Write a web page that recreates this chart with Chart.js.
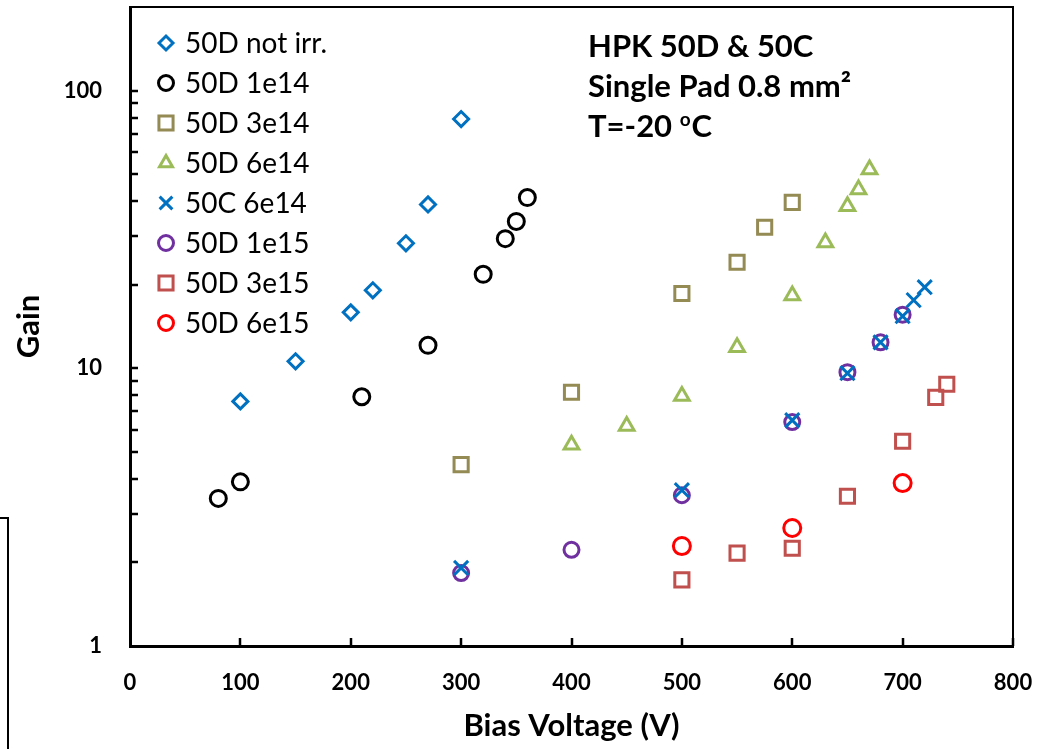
<!DOCTYPE html>
<html><head><meta charset="utf-8">
<script src="https://cdn.jsdelivr.net/npm/chart.js@4.4.1/dist/chart.umd.min.js"></script>
<style>html,body{margin:0;padding:0;background:#fff;overflow:hidden}#wrap{width:1057px;height:749px;position:relative}</style>
</head><body><div id="wrap"><canvas id="c" width="1057" height="749"></canvas></div>
<script>
// ---- data ----
const seriesNames = ['50D not irr.', '50D 1e14', '50D 3e14', '50D 6e14', '50C 6e14', '50D 1e15', '50D 3e15', '50D 6e15'];
const v50DnotIrr = [100, 150, 200, 220, 250, 270, 300];
const g50DnotIrr = [7.6, 10.6, 15.9, 19.1, 28.2, 38.9, 79];
const v50D1e14 = [80, 100, 210, 270, 320, 340, 350, 360];
const g50D1e14 = [3.4, 3.9, 7.9, 12.1, 21.8, 29.3, 33.8, 41.2];
const v50D3e14 = [300, 400, 500, 550, 575, 600];
const g50D3e14 = [4.5, 8.2, 18.6, 24.1, 32.2, 39.6];
const v50D6e14 = [400, 450, 500, 550, 600, 630, 650, 660, 670];
const g50D6e14 = [5.3, 6.2, 7.95, 11.9, 18.3, 28.4, 38.3, 44.0, 52.0];
const v50C6e14 = [300, 500, 600, 650, 680, 700, 710, 720];
const g50C6e14 = [1.91, 3.64, 6.5, 9.6, 12.4, 15.4, 17.6, 19.6];
const v50D1e15 = [300, 400, 500, 600, 650, 680, 700];
const g50D1e15 = [1.83, 2.22, 3.49, 6.4, 9.68, 12.4, 15.6];
const v50D3e15 = [500, 550, 600, 650, 700, 730, 740];
const g50D3e15 = [1.73, 2.16, 2.25, 3.46, 5.46, 7.86, 8.76];
const v50D6e15 = [500, 600, 700];
const g50D6e15 = [2.29, 2.66, 3.86];

const xTickValues = [0, 100, 200, 300, 400, 500, 600, 700, 800];
const yTickValues = [1, 10, 100];
const annotationLines = ['HPK 50D & 50C', 'Single Pad 0.8 mm\u00B2', 'T=-20 ', 'o', 'C'];
const xTitle = 'Bias Voltage (V)';
const yTitle = 'Gain';

// ---- styles ----
const colors = ['#0070C0', '#000000', '#948A54', '#9BBB59', '#0070C0', '#7030A0', '#C0504D', '#FF0000'];
const styles = ['rectRot', 'circle', 'rect', 'triangle', 'crossRot', 'circle', 'rect', 'circle'];
const radii = [7.5, 8, 10, 8.5, 10, 7.5, 10, 8.5];

const xs = [v50DnotIrr, v50D1e14, v50D3e14, v50D6e14, v50C6e14, v50D1e15, v50D3e15, v50D6e15];
const ys = [g50DnotIrr, g50D1e14, g50D3e14, g50D6e14, g50C6e14, g50D1e15, g50D3e15, g50D6e15];

const datasets = seriesNames.map((name, i) => ({
  label: name,
  data: xs[i].map((v, k) => ({x: v, y: ys[i][k]})),
  pointStyle: styles[i],
  pointRadius: radii[i],
  pointHoverRadius: radii[i],
  borderColor: colors[i],
  backgroundColor: 'rgba(0,0,0,0)',
  pointBorderWidth: 3,
  showLine: false
}));

function drawMarker(ctx, style, x, y, r, color) {
  ctx.save();
  ctx.strokeStyle = color; ctx.lineWidth = 3; ctx.beginPath();
  if (style === 'circle') { ctx.arc(x, y, r, 0, Math.PI * 2); }
  else if (style === 'rect') { const s = r * Math.SQRT1_2; ctx.rect(x - s, y - s, 2 * s, 2 * s); }
  else if (style === 'rectRot') { ctx.moveTo(x - r, y); ctx.lineTo(x, y - r); ctx.lineTo(x + r, y); ctx.lineTo(x, y + r); ctx.closePath(); }
  else if (style === 'triangle') { ctx.moveTo(x, y - r); ctx.lineTo(x + r * 0.866, y + r / 2); ctx.lineTo(x - r * 0.866, y + r / 2); ctx.closePath(); }
  else if (style === 'crossRot') { const s = r * Math.SQRT1_2; ctx.moveTo(x - s, y - s); ctx.lineTo(x + s, y + s); ctx.moveTo(x - s, y + s); ctx.lineTo(x + s, y - s); }
  ctx.stroke(); ctx.restore();
}

const decor = {
  id: 'decor',
  afterDraw(chart) {
    const {ctx, chartArea: a, scales: {x, y}} = chart;
    ctx.save();
    // frame top/right
    ctx.strokeStyle = '#000'; ctx.lineWidth = 2;
    ctx.beginPath(); ctx.moveTo(a.left, a.top); ctx.lineTo(a.right, a.top); ctx.lineTo(a.right, a.bottom); ctx.stroke();
    // inside ticks
    ctx.lineWidth = 2.5; ctx.beginPath();
    xTickValues.forEach(v => { if (v === 0) return; const p = Math.round(x.getPixelForValue(v)); ctx.moveTo(p, a.bottom); ctx.lineTo(p, a.bottom - 8); });
    [1, 10, 100].forEach(d => { for (let m = 1; m <= 9; m++) { const v = d * m; if (v === 1 || v > 190) continue; const p = Math.round(y.getPixelForValue(v)); ctx.moveTo(a.left, p); ctx.lineTo(a.left + 8, p); } });
    ctx.stroke();
    // legend
    ctx.fillStyle = '#000'; ctx.font = '28px Lato'; ctx.textBaseline = 'alphabetic'; ctx.textAlign = 'left';
    seriesNames.forEach((n, i) => {
      drawMarker(ctx, styles[i], 166, 43 + 40 * i, styles[i] === 'rect' ? 10 : (styles[i] === 'rectRot' ? 7 : (styles[i] === 'crossRot' ? 9 : 7.5)), colors[i]);
      ctx.fillText(n, 185, 53 + 40 * i);
    });
    // annotation
    ctx.font = 'bold 31px Lato';
    ctx.fillText(annotationLines[0], 588, 57);
    ctx.fillText(annotationLines[1], 588, 97);
    ctx.fillText(annotationLines[2], 588, 137);
    let w = ctx.measureText(annotationLines[2]).width;
    ctx.font = 'bold 19px Lato';
    ctx.fillText(annotationLines[3], 588 + w, 126);
    const w2 = ctx.measureText(annotationLines[3]).width;
    ctx.font = 'bold 31px Lato';
    ctx.fillText(annotationLines[4], 588 + w + w2 + 1, 137);
    // partial frame at bottom-left edge
    ctx.lineWidth = 2; ctx.beginPath(); ctx.moveTo(0, 518); ctx.lineTo(8, 518); ctx.lineTo(8, 749); ctx.stroke();
    ctx.restore();
  }
};

new Chart(document.getElementById('c'), {
  type: 'scatter',
  data: {datasets},
  options: {
    responsive: false, animation: false, devicePixelRatio: 1,
    layout: {autoPadding: false, padding: {left: 0, top: 7, right: 44, bottom: 0}},
    plugins: {legend: {display: false}, tooltip: {enabled: false}},
    scales: {
      x: {
        type: 'linear', min: 0, max: 800,
        afterBuildTicks: s => { s.ticks = xTickValues.map(v => ({value: v})); },
        afterFit: s => { s.height = 103; s.paddingLeft = 0; s.paddingRight = 0; },
        grid: {display: false, drawTicks: false},
        border: {display: true, color: '#000', width: 3},
        ticks: {color: '#000', font: {family: 'Lato', weight: 'bold', size: 22}, padding: 24, maxRotation: 0, callback: v => String(v)},
        title: {display: true, text: xTitle, color: '#000', font: {family: 'Lato', weight: 'bold', size: 31}, padding: {top: 0, bottom: 4}}
      },
      y: {
        type: 'logarithmic', min: 1, max: 200,
        afterBuildTicks: s => { s.ticks = yTickValues.map(v => ({value: v})); },
        afterFit: s => { s.width = 130; s.paddingTop = 0; s.paddingBottom = 0; },
        grid: {display: false, drawTicks: false},
        border: {display: true, color: '#000', width: 3},
        ticks: {color: '#000', font: {family: 'Lato', weight: 'bold', size: 22}, padding: 28, callback: v => String(v)},
        title: {display: true, text: yTitle, color: '#000', font: {family: 'Lato', weight: 'bold', size: 31}, padding: {top: 10, bottom: 0}}
      }
    }
  },
  plugins: [decor]
});
</script>
</body></html>
